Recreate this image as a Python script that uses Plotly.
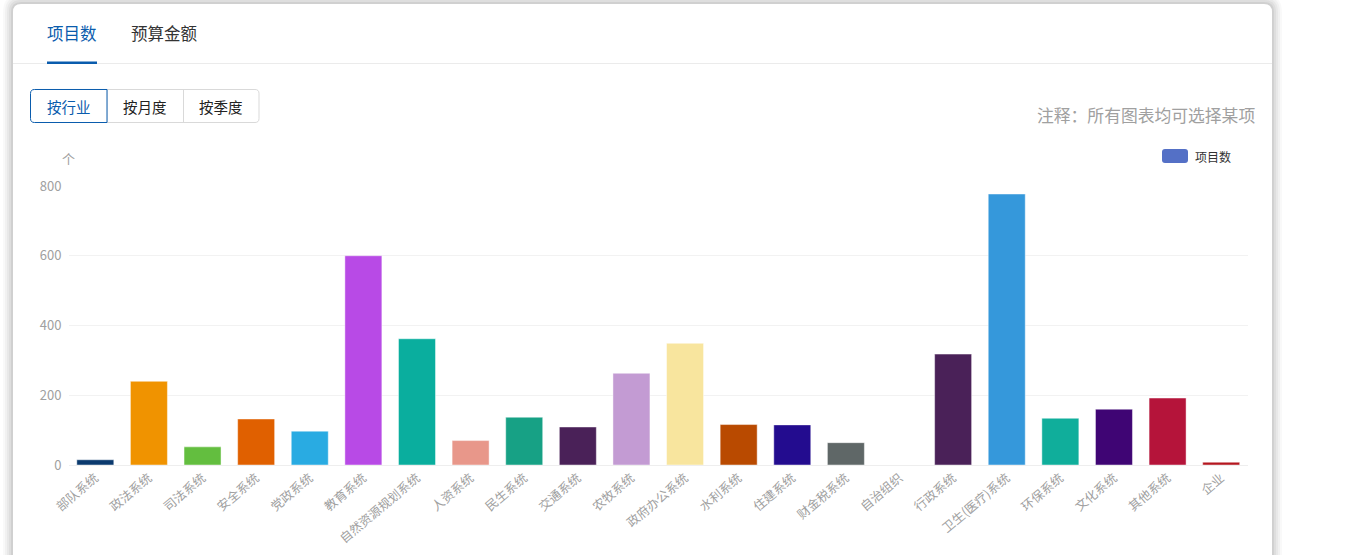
import plotly.graph_objects as go

W, H = 1346, 555

categories = ["部队系统", "政法系统", "司法系统", "安全系统", "党政系统", "教育系统",
              "自然资源规划系统", "人资系统", "民生系统", "交通系统", "农牧系统", "政府办公系统",
              "水利系统", "住建系统", "财金税系统", "自治组织", "行政系统", "卫生(医疗)系统",
              "环保系统", "文化系统", "其他系统", "企业"]
values = [15, 240, 52, 132, 97, 600, 362, 70, 137, 109, 263, 349,
          116, 115, 64, 0, 318, 777, 134, 160, 192, 8]
bar_colors = ["#0b3a6e", "#f09300", "#63be3f", "#e06000", "#29abe2", "#b84ae6",
              "#0aae9e", "#e8978a", "#17a185", "#4a2158", "#c39bd3", "#f8e59e",
              "#b94a00", "#230c8f", "#5f6767", "#888888", "#4a2158", "#3598db",
              "#10ae9b", "#3f0574", "#b5143a", "#b4171f"]
y_ticks = [0, 200, 400, 600, 800]
series_name = "项目数"

FONT = "Noto Sans CJK SC"


def px(x):
    return x / W


def py(y):
    return (H - y) / H


def rrect(x0, y0, x1, y1, r, tl=True, tr=True, br=True, bl=True):
    def P(x, y):
        return f"{px(x):.6f},{py(y):.6f}"
    rtl = r if tl else 0
    rtr = r if tr else 0
    rbr = r if br else 0
    rbl = r if bl else 0
    d = f"M {P(x0 + rtl, y0)} L {P(x1 - rtr, y0)} "
    d += f"Q {P(x1, y0)} {P(x1, y0 + rtr)} " if rtr else ""
    d += f"L {P(x1, y1 - rbr)} "
    d += f"Q {P(x1, y1)} {P(x1 - rbr, y1)} " if rbr else ""
    d += f"L {P(x0 + rbl, y1)} "
    d += f"Q {P(x0, y1)} {P(x0, y1 - rbl)} " if rbl else ""
    d += f"L {P(x0, y0 + rtl)} "
    d += f"Q {P(x0, y0)} {P(x0 + rtl, y0)} " if rtl else ""
    d += "Z"
    return d


shapes = []
# card shadow
for i, op in enumerate([0.025, 0.03, 0.035, 0.045, 0.06]):
    g = 10 - 2 * i
    shapes.append(dict(type="path", xref="paper", yref="paper",
                       path=rrect(13 - g, 4 - g, 1272 + g, 600, 8 + g),
                       fillcolor=f"rgba(0,0,0,{op})", line=dict(width=0), layer="below"))
# card
shapes.append(dict(type="path", xref="paper", yref="paper",
                   path=rrect(13, 4, 1272, 600, 8),
                   fillcolor="#ffffff", line=dict(width=0), layer="below"))
# tab separator
shapes.append(dict(type="line", xref="paper", yref="paper",
                   x0=px(13), x1=px(1272), y0=py(63.5), y1=py(63.5),
                   line=dict(color="#ebebeb", width=1), layer="below"))
# active tab underline
shapes.append(dict(type="rect", xref="paper", yref="paper",
                   x0=px(47), x1=px(97), y0=py(64), y1=py(61.5),
                   fillcolor="#0a5cad", line=dict(width=0)))
# buttons
shapes.append(dict(type="path", xref="paper", yref="paper",
                   path=rrect(107, 89.5, 259, 122.5, 4, tl=False, bl=False),
                   fillcolor="#ffffff", line=dict(color="#d9d9d9", width=1)))
shapes.append(dict(type="line", xref="paper", yref="paper",
                   x0=px(183.5), x1=px(183.5), y0=py(89.5), y1=py(122.5),
                   line=dict(color="#d9d9d9", width=1)))
shapes.append(dict(type="path", xref="paper", yref="paper",
                   path=rrect(30.5, 89.5, 107, 122.5, 4, tr=False, br=False),
                   fillcolor="#ffffff", line=dict(color="#0a5cad", width=1)))
# legend swatch
shapes.append(dict(type="path", xref="paper", yref="paper",
                   path=rrect(1162, 149, 1188, 163, 3),
                   fillcolor="#5470c6", line=dict(width=0)))

annotations = [
    dict(text="项目数", x=px(72), y=py(33), font=dict(size=16.5, color="#0a5cad", family=FONT)),
    dict(text="预算金额", x=px(164.5), y=py(33), font=dict(size=16.5, color="#333333", family=FONT)),
    dict(text="按行业", x=px(68.8), y=py(106), font=dict(size=14.5, color="#0a5cad", family=FONT)),
    dict(text="按月度", x=px(145.3), y=py(106), font=dict(size=14.5, color="#222222", family=FONT)),
    dict(text="按季度", x=px(221.3), y=py(106), font=dict(size=14.5, color="#222222", family=FONT)),
    dict(text="注释：所有图表均可选择某项", x=px(1257), y=py(115), xanchor="right",
         font=dict(size=16.8, color="#a0a0a0", family=FONT)),
    dict(text=series_name, x=px(1193), y=py(156), xanchor="left",
         font=dict(size=12, color="#333333", family=FONT)),
    dict(text="个", x=px(68.5), y=py(158), font=dict(size=13, color="#a0a0a0", family=FONT)),
]
for a in annotations:
    a.setdefault("xanchor", "center")
    a.update(xref="paper", yref="paper", showarrow=False, yanchor="middle")

fig = go.Figure(go.Bar(
    x=categories, y=values, name=series_name,
    marker=dict(color=bar_colors, line=dict(color="rgba(255,255,255,0.45)", width=1)),
    showlegend=False,
))

fig.update_layout(
    width=W, height=H,
    margin=dict(l=0, r=0, t=0, b=0),
    paper_bgcolor="#ffffff", plot_bgcolor="rgba(0,0,0,0)",
    template="none",
    bargap=0.31,
    shapes=shapes, annotations=annotations,
    font=dict(family=FONT),
    xaxis=dict(domain=[px(68.5), px(1248)], automargin=False, tickangle=-40,
               tickfont=dict(size=12.5, color="#a0a0a0", family=FONT),
               showgrid=False, showline=True, linecolor="#eeeeee", linewidth=1,
               ticks="", zeroline=False, fixedrange=True),
    yaxis=dict(domain=[py(465), py(186)], range=[0, 800], automargin=False,
               tickvals=y_ticks, tickfont=dict(size=13, color="#a0a0a0", family=FONT),
               showgrid=True, gridcolor="#f2f2f2", gridwidth=1, zeroline=False,
               showline=False, ticks="", ticklabelstandoff=6, fixedrange=True),
)

fig.write_html("out.html")
